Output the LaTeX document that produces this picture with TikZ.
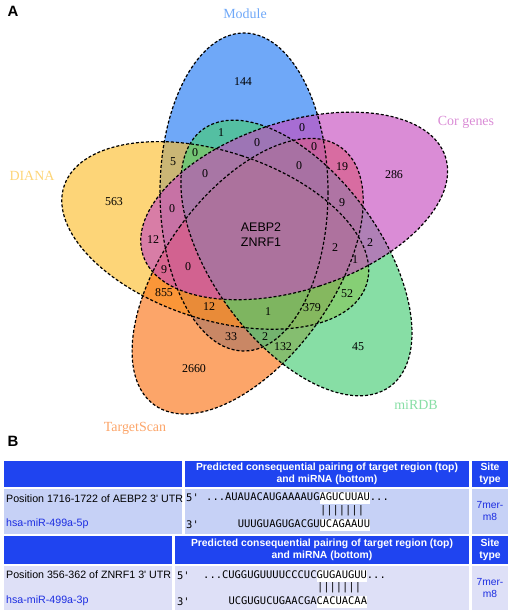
\documentclass[tikz,border=0pt]{standalone}
\usepackage{fontspec}
\setmainfont{Liberation Serif}
\setsansfont{Liberation Sans}
\newfontfamily\seqfont{DejaVu Sans Mono}
\usepackage{tikz}
\usetikzlibrary{positioning}

\definecolor{modc}{RGB}{34,121,244}
\definecolor{corc}{RGB}{198,78,192}
\definecolor{dianac}{RGB}{252,190,47}
\definecolor{tsc}{RGB}{250,117,24}
\definecolor{mirc}{RGB}{70,204,117}
\definecolor{modl}{RGB}{111,168,248}
\definecolor{corl}{RGB}{218,140,214}
\definecolor{dianal}{RGB}{253,213,120}
\definecolor{tsl}{RGB}{252,165,105}
\definecolor{mirl}{RGB}{135,222,165}
\definecolor{hdr}{RGB}{31,68,240}
\definecolor{rowa}{RGB}{198,209,246}
\definecolor{rowb}{RGB}{222,224,247}
\definecolor{bluetxt}{RGB}{28,45,225}

\newcommand{\hlseq}[1]{{\setlength{\fboxsep}{0bp}\colorbox{white}{\strut #1}}}

\begin{document}
\begin{tikzpicture}[x=1bp,y=-1bp,
  set/.style={fill opacity=.65},
  rim/.style={dash pattern=on 3bp off 2bp,line width=1.2bp},
  num/.style={inner sep=0pt,font=\fontsize{12}{14}\selectfont},
  setname/.style={inner sep=0pt,font=\fontsize{14}{16}\selectfont},
  panel/.style={inner sep=0pt,font=\sffamily\bfseries\fontsize{15}{17}\selectfont},
  head/.style={inner sep=0pt,align=center,text=white,font=\sffamily\bfseries\fontsize{10.4}{12.4}\selectfont},
  txt/.style={inner sep=0pt,anchor=west,font=\sffamily\fontsize{10.7}{13}\selectfont},
  seq/.style={inner sep=0pt,anchor=west,font=\seqfont\fontsize{10.5}{12.6}\selectfont},
  site/.style={inner sep=0pt,align=center,text=bluetxt,font=\sffamily\fontsize{10.3}{12.4}\selectfont}]
  \useasboundingbox (0,0) rectangle (512,615);

  \foreach \a/\c in {0/modc,-288/dianac,-216/tsc,-144/mirc,-72/corc}
    \fill[\c,set,rotate around={\a:(259.5,233.5)}] (244,192) ellipse [x radius=84,y radius=159];
  \foreach \a in {0,-72,-144,-216,-288}
    \draw[rim,rotate around={\a:(259.5,233.5)}] (244,192) ellipse [x radius=84,y radius=159];

  \node[panel] (A) at (13,11) {A};
  \node[setname,text=modl] (mod) at (245,14) {Module};
  \node[setname,text=corl] (cor) at (466,122) {Cor genes};
  \node[setname,text=dianal] (dia) at (32,176) {DIANA};
  \node[setname,text=tsl] (ts) at (135,428) {TargetScan};
  \node[setname,text=mirl] (mir) at (416,405) {miRDB};

  \node[inner sep=0pt,align=center,font=\sffamily\fontsize{12.5}{15}\selectfont] (core) at (261,235) {AEBP2\\ZNRF1};
  \node[num] (r1) at (243,82) {144};
  \node[num] (r2) at (221,133) {1};
  \node[num] (r3) at (302,128) {0};
  \node[num] (r4) at (257,143) {0};
  \node[num] (r5) at (173,162) {5};
  \node[num] (r6) at (195,153) {0};
  \node[num] (r7) at (314,147) {0};
  \node[num] (r8) at (342,167) {19};
  \node[num] (r9) at (394,175) {286};
  \node[num] (r10) at (205,174) {0};
  \node[num] (r11) at (299,166) {0};
  \node[num] (r12) at (114,202) {563};
  \node[num] (r13) at (172,209) {0};
  \node[num] (r14) at (342,203) {9};
  \node[num] (r15) at (153,240) {12};
  \node[num] (r16) at (370,243) {2};
  \node[num] (r17) at (335,248) {2};
  \node[num] (r18) at (355,260) {1};
  \node[num] (r19) at (164,270) {9};
  \node[num] (r20) at (188,267) {0};
  \node[num] (r21) at (164,293) {855};
  \node[num] (r22) at (347,294) {52};
  \node[num] (r23) at (209,307) {12};
  \node[num] (r24) at (268,312) {1};
  \node[num] (r25) at (312,308) {379};
  \node[num] (r26) at (231,337) {33};
  \node[num] (r27) at (265,337) {2};
  \node[num] (r28) at (283,347) {132};
  \node[num] (r29) at (358,347) {45};
  \node[num] (r30) at (194,369) {2660};

  \node[panel] (B) at (13,441) {B};

  \fill[hdr] (4,461) rectangle (182,487);
  \fill[hdr] (185,461) rectangle (469,487);
  \fill[hdr] (472,461) rectangle (508,487);
  \fill[rowa] (4,489) rectangle (182,534);
  \fill[rowa] (185,489) rectangle (469,534);
  \fill[rowa] (472,489) rectangle (508,534);
  \fill[hdr] (4,536) rectangle (172,564);
  \fill[hdr] (175,536) rectangle (469,564);
  \fill[hdr] (472,536) rectangle (508,564);
  \fill[rowb] (4,566) rectangle (172,610);
  \fill[rowb] (175,566) rectangle (469,610);
  \fill[rowb] (472,566) rectangle (508,610);

  \node[head] (h1) at (327,474) {Predicted consequential pairing of target region (top)\\and miRNA (bottom)};
  \node[head] (s1) at (490,474) {Site\\type};
  \node[txt] (p1) at (6,499) {Position 1716-1722 of AEBP2 3\textquotesingle{} UTR};
  \node[txt,text=bluetxt] (m1) at (6,524) {hsa-miR-499a-5p};
  \node[seq] (f1) at (186,498) {5\textquotesingle};
  \node[seq] (t1) at (206,498) {...AUAUACAUGAAAAUG\hlseq{AGUCUUAU}...};
  \node[seq] (k1) at (319.8,511) {|||||||};
  \node[seq] (g1) at (186,525) {3\textquotesingle};
  \node[seq] (b1) at (237.6,525) {UUUGUAGUGACGU\hlseq{UCAGAAUU}};
  \node[site] (c1) at (490,511) {7mer-\\m8};

  \node[head] (h2) at (322,550) {Predicted consequential pairing of target region (top)\\and miRNA (bottom)};
  \node[head] (s2) at (490,550) {Site\\type};
  \node[txt] (p2) at (6,575) {Position 356-362 of ZNRF1 3\textquotesingle{} UTR};
  \node[txt,text=bluetxt] (m2) at (6,601) {hsa-miR-499a-3p};
  \node[seq] (f2) at (177,576) {5\textquotesingle};
  \node[seq] (t2) at (203,576) {...CUGGUGUUUUCCCUC\hlseq{GUGAUGUU}...};
  \node[seq] (k2) at (316.8,588) {|||||||};
  \node[seq] (g2) at (177,602) {3\textquotesingle};
  \node[seq] (b2) at (228.3,602) {UCGUGUCUGAACGA\hlseq{CACUACAA}};
  \node[site] (c2) at (490,588) {7mer-\\m8};
\end{tikzpicture}
\end{document}
